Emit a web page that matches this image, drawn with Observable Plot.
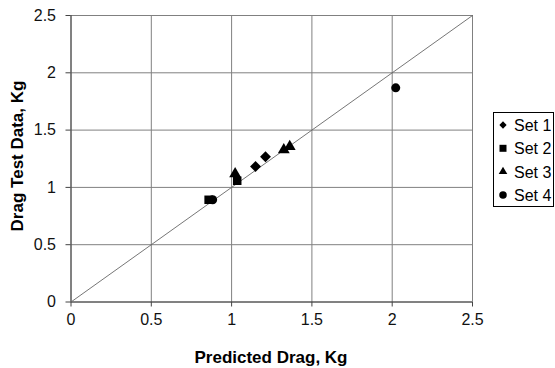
<!DOCTYPE html>
<html><head><meta charset="utf-8">
<script src="https://cdn.jsdelivr.net/npm/d3@7"></script>
<script src="https://cdn.jsdelivr.net/npm/@observablehq/plot@0.6"></script>
<style>
body{margin:0;background:#fff;font-family:"Liberation Sans",Arial,sans-serif;}
#wrap{position:relative;width:555px;height:368px;}
</style></head><body><div id="wrap"></div>
<script>
const setNames = ["Set 1","Set 2","Set 3","Set 4"];
const set1X = [1.149, 1.211];
const set1Y = [1.182, 1.268];
const set2X = [0.857, 1.035];
const set2Y = [0.892, 1.058];
const set3X = [1.022, 1.325, 1.362];
const set3Y = [1.119, 1.328, 1.357];
const set4X = [0.882, 2.022];
const set4Y = [0.892, 1.869];
const ticks = [0, 0.5, 1, 1.5, 2, 2.5];
const symbols = ["diamond2","square","triangle","circle"];
const radii = [4.9, 4.8, 4.4, 4.5];

const sets = [[set1X,set1Y],[set2X,set2Y],[set3X,set3Y],[set4X,set4Y]];
const data = sets.flatMap(([xs,ys],i)=>xs.map((x,j)=>({set:setNames[i],x,y:ys[j]})));
const diag = [{x:0,y:0},{x:2.5,y:2.5}];
const fmt = d=>String(d);

const chart = Plot.plot({
  width:555, height:368,
  marginLeft:70.5, marginRight:83, marginTop:15, marginBottom:66.5,
  style:{fontFamily:"Liberation Sans, Arial, sans-serif", fontSize:"16px", color:"#000", background:"#fff"},
  x:{domain:[0,2.5], ticks, tickFormat:fmt, label:null},
  y:{domain:[0,2.5], ticks, tickFormat:fmt, label:null},
  marks:[
    Plot.gridX(ticks,{stroke:"#808080", strokeOpacity:1, strokeWidth:1}),
    Plot.gridY(ticks,{stroke:"#808080", strokeOpacity:1, strokeWidth:1}),
    Plot.ruleX([0],{stroke:"#444"}),
    Plot.ruleY([0],{stroke:"#444"}),
    Plot.axisX({ticks, tickSize:5, tickPadding:7, stroke:"#444", fontSize:16, fill:"#111", tickFormat:fmt}),
    Plot.axisY({ticks, tickSize:5, tickPadding:10, stroke:"#444", fontSize:16, fill:"#111", tickFormat:fmt}),
    Plot.line(diag,{x:"x",y:"y",stroke:"#666",strokeWidth:0.9}),
    ...setNames.map((s,i)=>Plot.dot(data.filter(d=>d.set===s),{x:"x",y:"y",symbol:()=>symbols[i],fill:"black",stroke:"none",r:radii[i]}))
  ]
});
const svg = d3.select(chart);
svg.append("text").attr("x",271).attr("y",363).attr("text-anchor","middle")
  .attr("font-weight","bold").attr("font-size",17).attr("fill","#000").text("Predicted Drag, Kg");
svg.append("text").attr("transform","translate(23,156) rotate(-90)").attr("text-anchor","middle")
  .attr("font-weight","bold").attr("font-size",17).attr("fill","#000").text("Drag Test Data, Kg");
// legend
const lg = svg.append("g");
lg.append("rect").attr("x",493.5).attr("y",112.5).attr("width",60).attr("height",94).attr("fill","#fff").attr("stroke","#000").attr("stroke-width",1);
const legSyms = [
  d3.symbolDiamond2 || d3.symbolDiamond,
  d3.symbolSquare, d3.symbolTriangle, d3.symbolCircle];
const legSizes = [34, 49, 32, 44];
setNames.forEach((s,i)=>{
  const cy = 125 + i*23.3;
  lg.append("path").attr("d", d3.symbol(legSyms[i], legSizes[i])()).attr("transform",`translate(503,${cy})`).attr("fill","#000");
  lg.append("text").attr("x",514).attr("y",cy+6).attr("text-anchor","start").attr("font-size",16).attr("fill","#000").text(s);
});
document.getElementById("wrap").appendChild(chart);
</script></body></html>
